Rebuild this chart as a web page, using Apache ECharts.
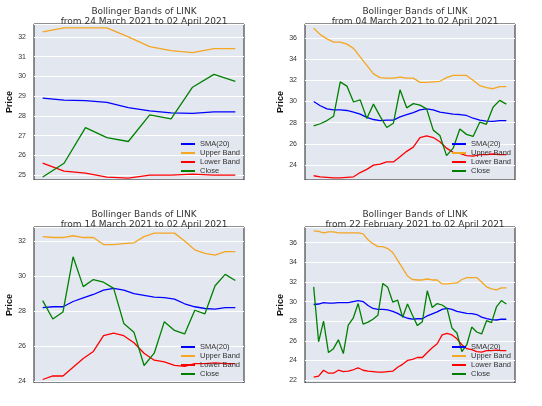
<!DOCTYPE html>
<html><head><meta charset="utf-8">
<script src="https://cdn.jsdelivr.net/npm/echarts@6/dist/echarts.min.js"></script>
<style>html,body{margin:0;padding:0;background:#fff}#c{width:542px;height:406px}</style>
</head><body><div id="c"></div>
<script>
// 40 trading days, 22 Feb 2021 .. 02 Apr 2021
const closeVals = [31.5,25.9,28.0,24.8,25.2,26.1,24.7,27.6,28.3,29.8,
  27.7,27.9,28.2,28.6,31.85,31.45,29.95,30.15,28.4,29.75,
  28.6,27.55,27.95,31.1,29.4,29.8,29.65,29.3,27.3,26.8,
  24.9,25.6,27.4,26.9,26.7,28.05,27.85,29.45,30.1,29.75];
const smaVals = [29.7,29.75,29.9,29.85,29.85,29.9,29.9,29.9,30.0,30.1,
  30.0,29.6,29.3,29.2,29.2,29.15,29.0,28.8,28.5,28.3,
  28.2,28.25,28.25,28.55,28.75,28.95,29.2,29.3,29.2,29.0,
  28.9,28.8,28.77,28.68,28.42,28.25,28.15,28.12,28.2,28.2];
const upperVals = [37.2,37.15,37.0,37.1,37.1,37.0,37.0,37.0,37.0,37.0,
  36.9,36.3,35.9,35.6,35.6,35.4,35.0,34.2,33.4,32.6,
  32.25,32.2,32.2,32.3,32.2,32.2,31.8,31.8,31.85,31.9,
  32.25,32.45,32.45,32.45,32.0,31.5,31.3,31.2,31.4,31.4];
const lowerVals = [22.3,22.4,23.0,22.7,22.7,23.0,22.85,22.9,23.05,23.25,
  23.0,22.9,22.85,22.8,22.8,22.85,22.9,23.3,23.6,24.0,
  24.1,24.3,24.3,24.8,25.3,25.7,26.6,26.75,26.6,26.2,
  25.6,25.2,25.1,24.9,24.85,25.0,25.0,25.05,25.0,25.0];
const panelTitles = ["Bollinger Bands of LINK\nfrom 24 March 2021 to 02 April 2021",
  "Bollinger Bands of LINK\nfrom 04 March 2021 to 02 April 2021",
  "Bollinger Bands of LINK\nfrom 14 March 2021 to 02 April 2021",
  "Bollinger Bands of LINK\nfrom 22 February 2021 to 02 April 2021"];
const panelDays = [10, 30, 20, 40];
const yMin = [24.75, 22.6, 23.9, 21.7];
const yMax = [32.65, 37.3, 32.8, 37.6];
const yInt = [1, 2, 2, 2];

const boxes = [{l:34,t:24},{l:305,t:24},{l:34,t:227},{l:305,t:227}];
const W=210,H=156;
const names=['SMA(20)','Upper Band','Lower Band','Close'];
const colors=['#0000ff','#f5a623','#ff0000','#008000'];
const src=[smaVals,upperVals,lowerVals,closeVals];
const opt={animation:false,title:[],grid:[],xAxis:[],yAxis:[],series:[],legend:[]};
boxes.forEach((b,i)=>{
  const n=panelDays[i];
  const pad=(n-1)*0.045;
  opt.title.push({text:panelTitles[i],left:b.l+W/2,top:b.t-22,textAlign:'center',
    textStyle:{fontSize:9,fontWeight:'normal',color:'#333',lineHeight:10,fontFamily:'DejaVu Sans'}});
  opt.grid.push({left:b.l,top:b.t,width:W,height:H,show:true,backgroundColor:'#e3e7f0',borderColor:'#222',borderWidth:1});
  opt.xAxis.push({type:'value',gridIndex:i,min:-pad,max:n-1+pad,
    axisLabel:{show:false},axisTick:{show:false},axisLine:{show:false},splitLine:{show:false}});
  opt.yAxis.push({type:'value',gridIndex:i,min:yMin[i],max:yMax[i],splitNumber:i===0?8:7,minInterval:yInt[i],maxInterval:yInt[i],
    name:'Price',nameLocation:'middle',nameGap:20,nameTextStyle:{fontSize:9,fontWeight:'bold',color:'#111'},
    axisLabel:{fontSize:7,color:'#333',showMinLabel:false,showMaxLabel:false,
      formatter:v=>Math.abs(v-Math.round(v))<1e-6?String(Math.round(v)):''},
    axisLine:{show:false},axisTick:{show:false},splitLine:{lineStyle:{color:'#fff',width:1}}});
  names.forEach((nm,j)=>{
    opt.series.push({name:nm,type:'line',xAxisIndex:i,yAxisIndex:i,
      data:src[j].slice(40-n).map((v,k)=>[k,v]),
      showSymbol:false,lineStyle:{color:colors[j],width:1.3},itemStyle:{color:colors[j]}});
  });
  opt.legend.push({orient:'vertical',left:b.l+142,top:b.t+111,itemGap:1,itemWidth:14,itemHeight:8,icon:'path://M0,4L14,4L14,6L0,6Z',
    data:names,textStyle:{fontSize:7.5,color:'#333'}});
});
echarts.init(document.getElementById('c')).setOption(opt);
</script></body></html>
